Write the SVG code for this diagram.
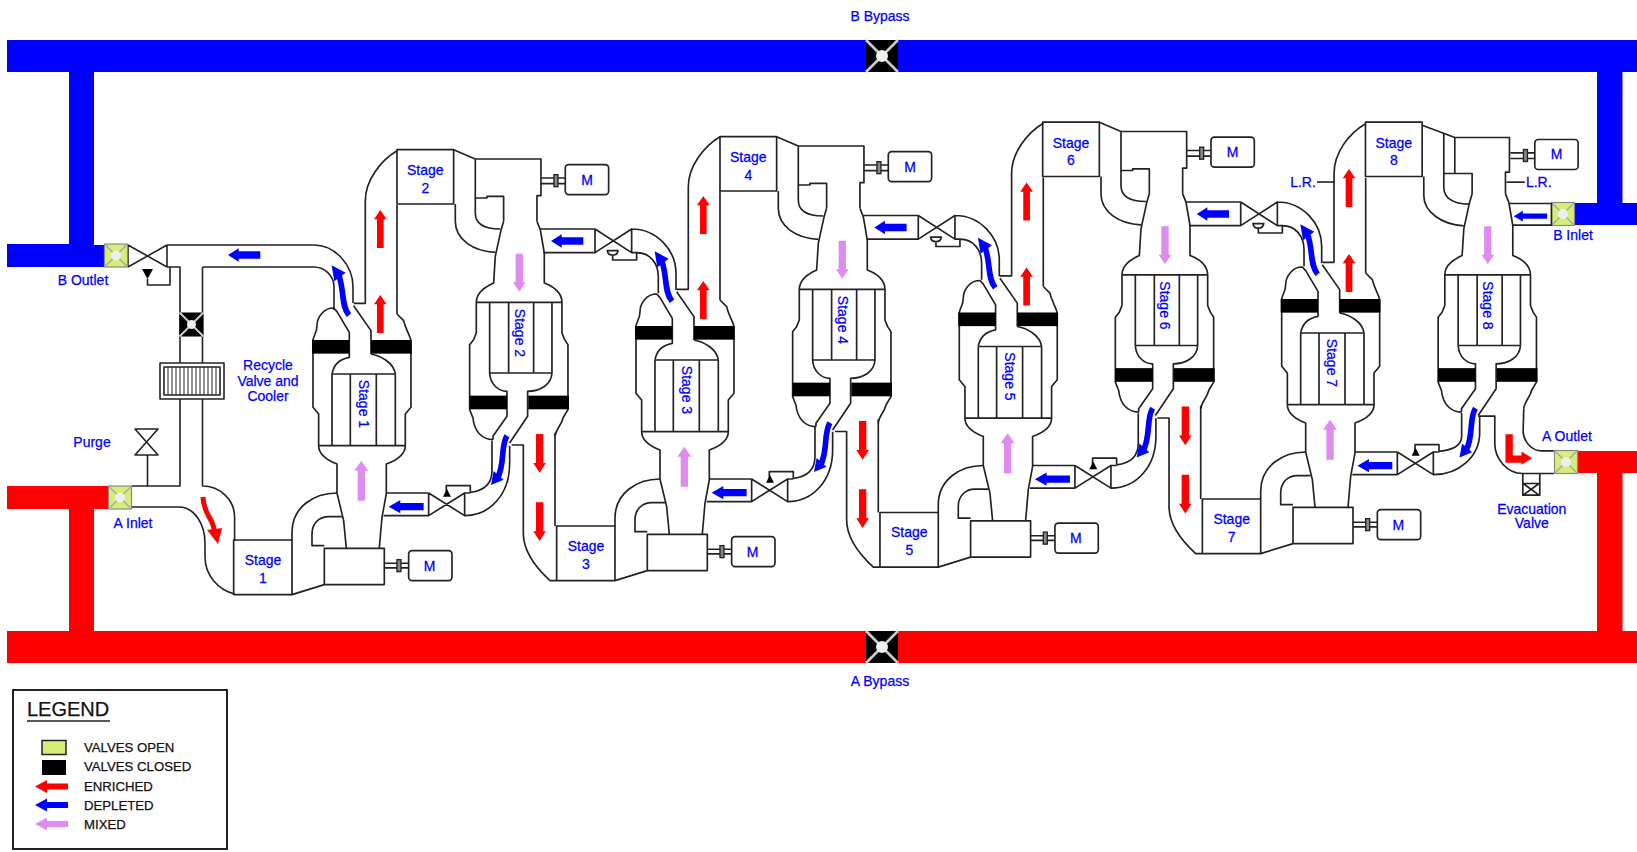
<svg xmlns="http://www.w3.org/2000/svg" width="1637" height="852" viewBox="0 0 1637 852">
<style>
text{font-family:"Liberation Sans",Arial,sans-serif;fill:#0000ff;stroke:#0000ff;stroke-width:.25px;text-anchor:middle;font-size:14px}
.z text{font-size:42px;stroke-width:.8px}
.l{fill:none;stroke:#222;stroke-width:1.6;stroke-linejoin:round}
.z .l,.zl{fill:none;stroke:#222;stroke-width:5;stroke-linejoin:round}
.b{fill:#000}.r{fill:#ff0000}.d{fill:#0000ff}.m{fill:#df8cef}
text.leg{fill:#111;stroke:#111;text-anchor:start;font-size:13.200px}
</style>
<defs>
<g id="vc"><rect x="-12" y="-12" width="24" height="24" fill="#000"/><path d="M-12,-12L12,12M12,-12L-12,12" stroke="#ccc" stroke-width="2"/><circle r="4.5" fill="#eee"/></g>
<g id="vo"><rect x="-11.5" y="-11.5" width="23" height="23" fill="#d6ee78" stroke="#888" stroke-width="1.2"/><path d="M-11,-11L11,11M11,-11L-11,11" stroke="#aaa" stroke-width="1.6"/><circle r="5" fill="#eee"/></g>
<g id="oddCore">
<path class="zl" d="M290,1188H465V1352H290ZM465,1352L562,1322M562,1213H742V1322H562Z"/>
<path class="zl" d="M465,1188V1165C465,1090 530,1047 600,1047M562,1205H525V1170C525,1140 545,1118 575,1118H615"/>
<path class="zl" d="M628,1213L620,1130L600,1047V960C575,950 545,935 545,905V810L528,790V588C532,570 540,565 540,545C540,520 560,492 590,492L600,503L637,565V640C610,645 590,660 585,690"/>
<path class="zl" d="M727,1213L735,1120L748,1050V960C775,950 805,935 805,905V810L822,790V590C818,570 805,555 800,530L780,510M702,630C730,635 770,655 775,690M702,630V560L650,485"/>
<path class="zl" d="M545,905H805M585,690H775M585,690V905M640,690V905M718,690V905M775,690V905"/>
<rect class="b" x="525" y="588" width="112" height="41"/><rect class="b" x="702" y="588" width="122" height="41"/>
<path class="zl" d="M742,1258H815M742,1272H815"/><rect x="780" y="1247" width="12" height="36" fill="#888" stroke="#222" stroke-width="4"/><rect class="zl" x="815" y="1220" width="130" height="90" rx="10"/>
<path class="m" d="M662,1070V980H652L673,950L694,980H684V1070Z"/>
</g>
<g id="riser"><path class="zl" d="M650,478H685V170C685,110 730,50 780,20M780,183V510"/></g>
<g id="riserArrows"><path class="r" d="M720,312V226H711L730,198L749,226H740V312Z"/><path class="r" d="M720,567V481H711L730,453L749,481H740V567Z"/></g>
<g id="bluLow"><path class="d" d="M860,1077H790V1068L755,1088L790,1108V1099H860Z"/></g>
<g id="bluUp"><path class="d" d="M370,322H305V313L273,333L305,353V344H370Z"/></g>
<g id="curveUp"><path d="M636,514C612,485 622,440 606,395" fill="none" stroke="#0000ff" stroke-width="17"/><path class="d" d="M584,364L626,386L592,412Z"/></g>
<g id="curveDown"><path d="M1110,878C1090,910 1105,960 1082,1005" fill="none" stroke="#0000ff" stroke-width="17"/><path class="d" d="M1062,1026L1070,984L1100,1010Z"/></g>
<g id="lowValve"><path class="zl" d="M748,1047H875M740,1115H875M875,1047V1115L983,1047V1115L875,1047M983,1047H1000M928,1045V1025H1000V1045"/><path class="b" d="M918,1058H942L930,1035Z"/></g>
<g id="lowLink"><use href="#lowValve"/><path class="zl" d="M983,1115C1060,1115 1118,1050 1118,960V905M1000,1045C1040,1040 1065,1020 1065,980V890"/></g>
<g id="upLink"><path class="zl" d="M240,297H405M250,368H405M405,297V368L515,297V368L405,297M515,297C590,297 648,360 648,430V480M515,368H530C570,368 595,400 595,440V490M458,378V390H530V368"/><path d="M442,362H474C472,380 444,380 442,362Z" fill="#fff" stroke="#222" stroke-width="5"/></g>
<g id="inflow"><path class="zl" d="M155,945H190V1210C190,1270 235,1320 270,1352H290M285,908V1188"/></g>
<g id="evenCore">
<path class="zl" d="M780,20H950V183H780Z"/>
<path class="zl" d="M1200,235L1210,260L1222,330V420C1250,430 1275,450 1275,478V570L1283,590L1293,605V800L1278,825C1275,845 1255,860 1255,880"/>
<path class="zl" d="M1100,235L1092,262L1075,340L1070,420C1050,430 1018,445 1018,478V570L1010,590L998,605V800L1008,825C1012,865 1035,890 1068,890"/>
<path class="zl" d="M1018,478H1275M1058,478V690M1115,478V690M1190,478V690M1245,478V690M1058,690H1245"/>
<path class="zl" d="M1058,690C1060,725 1085,745 1110,745V820L1068,880V890M1245,690C1243,725 1210,745 1172,745V820L1118,900"/>
<rect class="b" x="998" y="758" width="112" height="41"/><rect class="b" x="1174" y="758" width="122" height="41"/>
<path class="m" d="M1136,332V418H1128L1147,446L1166,418H1158V332Z"/>
<use href="#curveDown"/>
</g>
<g id="downArrows"><path class="r" d="M1197,873V960H1189L1208,989L1227,960H1219V873Z"/><path class="r" d="M1197,1078V1165H1189L1208,1194L1227,1165H1219V1078Z"/></g>
<g id="evenTop">
<path class="zl" d="M950,20L1015,48H1212V158H1200V235M1015,48V165H1050V160H1100V235"/>
<path class="zl" d="M1015,165V210C1015,240 1040,258 1090,258M955,183V235C955,290 1010,325 1075,328"/>
</g>
<g id="motorTop"><path class="zl" d="M1212,105H1285M1212,122H1285"/><rect x="1251" y="95" width="12" height="36" fill="#888" stroke="#222" stroke-width="4"/><rect class="zl" x="1285" y="65" width="130" height="90" rx="10"/></g>
</defs>
<rect width="1637" height="852" fill="#fff"/>
<g id="connectors">
<path class="d" d="M7,40H1637V72H1622.5V203H1637V225H1575V203H1597V72H94V245H104V267H7V244H69V72H7Z"/>
<path class="r" d="M7,631H69V509H7V486H108V509H94V631H1597V473H1578V451H1637V473H1622.5V631H1637V663H7Z"/>
<path class="l" d="M167,245H314C335,245 353,265 353,287V303M202.500,267H314C325,267 334,276 334,287V310"/>
<path class="l" d="M167,245V267M128,245L167,267M128,267L167,245M128,245V267M167,267H180V486H132M202.500,267V486C220,486 234.600,500 234.600,517V541M132,507H179C195,507 205,525 205,543V557C205,575 218,590 234.600,594"/>
<path class="b" d="M142,269H153L147.500,279Z"/><path class="l" d="M147.500,279V285H170V267"/>
<path class="l" d="M147.500,455V486"/><path class="l" d="M135,429H158L135,455H158Z"/>
<path d="M203,497C203,515 216,520 214,535" fill="none" stroke="#ff0000" stroke-width="5"/><path class="r" d="M207,530L222,528L218,544Z"/>
</g>
<g id="bypass-b-valve"><use href="#vc" transform="translate(882,56) scale(1.33)"/><text x="880" y="21">B Bypass</text></g>
<g id="bypass-a-valve"><use href="#vc" transform="translate(882,647) scale(1.33)"/><text x="880" y="686">A Bypass</text></g>
<g id="b-outlet"><use href="#vo" transform="translate(116,255.500)"/><text x="83" y="285">B Outlet</text></g>
<g id="a-inlet"><use href="#vo" transform="translate(120,497.500)"/><text x="133" y="528">A Inlet</text></g>
<g id="b-inlet"><use href="#vo" transform="translate(1563,214)"/><text x="1573" y="240">B Inlet</text></g>
<g id="a-outlet"><use href="#vo" transform="translate(1566,462)"/><text x="1567" y="441">A Outlet</text></g>
<g id="purge"><text x="92" y="447">Purge</text></g>
<g id="recycle-valve"><use href="#vc" transform="translate(191.500,324.500)"/><rect class="l" x="160" y="363" width="64" height="36" style="fill:#fff"/><rect class="l" x="164" y="367" width="56" height="28"/><path class="l" style="stroke-width:1" d="M168,367V395M172,367V395M176,367V395M180,367V395M184,367V395M188,367V395M192,367V395M196,367V395M200,367V395M204,367V395M208,367V395M212,367V395M216,367V395"/></g>
<g id="recycle-label"><text x="268" y="370">Recycle</text><text x="268" y="386">Valve and</text><text x="268" y="401">Cooler</text></g>
<g id="stage1" class="z" transform="translate(137,144) scale(.3333)"><use href="#oddCore"/><use href="#riser"/><use href="#riserArrows"/><use href="#bluUp"/><use href="#bluLow"/><use href="#lowLink"/><use href="#curveUp"/><text x="378" y="1262">Stage</text><text x="378" y="1316">1</text><text x="665" y="780" transform="rotate(90 665 780)">Stage 1</text><text x="878" y="1281">M</text></g>
<g id="stage2" class="z" transform="translate(137,143) scale(.3333)"><use href="#evenCore"/><use href="#downArrows"/><use href="#evenTop"/><use href="#motorTop"/><text x="865" y="97">Stage</text><text x="865" y="150">2</text><text x="1133" y="570" transform="rotate(90 1133 570)">Stage 2</text><text x="1350" y="125">M</text></g>
<g id="stage3" class="z" transform="translate(460,130) scale(.3333)"><use href="#inflow"/><use href="#oddCore"/><use href="#riser"/><use href="#riserArrows"/><use href="#upLink"/><use href="#bluUp"/><use href="#bluLow"/><use href="#lowLink"/><use href="#curveUp"/><text x="378" y="1262">Stage</text><text x="378" y="1316">3</text><text x="665" y="780" transform="rotate(90 665 780)">Stage 3</text><text x="878" y="1281">M</text></g>
<g id="stage4" class="z" transform="translate(460,130) scale(.3333)"><use href="#evenCore"/><use href="#downArrows"/><use href="#evenTop"/><use href="#motorTop"/><text x="865" y="97">Stage</text><text x="865" y="150">4</text><text x="1133" y="570" transform="rotate(90 1133 570)">Stage 4</text><text x="1350" y="125">M</text></g>
<g id="stage5" class="z" transform="translate(783.300,116.500) scale(.3333)"><use href="#inflow"/><use href="#oddCore"/><use href="#riser"/><use href="#riserArrows"/><use href="#upLink"/><use href="#bluUp"/><use href="#bluLow"/><use href="#lowLink"/><use href="#curveUp"/><text x="378" y="1262">Stage</text><text x="378" y="1316">5</text><text x="665" y="780" transform="rotate(90 665 780)">Stage 5</text><text x="878" y="1281">M</text></g>
<g id="stage6" class="z" transform="translate(782.700,115.500) scale(.3333)"><use href="#evenCore"/><use href="#downArrows"/><use href="#evenTop"/><use href="#motorTop"/><text x="865" y="97">Stage</text><text x="865" y="150">6</text><text x="1133" y="570" transform="rotate(90 1133 570)">Stage 6</text><text x="1350" y="125">M</text></g>
<g id="stage7" class="z" transform="translate(1105.700,103) scale(.3333)"><use href="#inflow"/><use href="#oddCore"/><path class="zl" d="M650,478H685V212C685,150 730,90 780,62M780,225V510"/><use href="#riserArrows"/><use href="#upLink"/><use href="#bluUp"/><use href="#bluLow"/><use href="#lowValve"/><path class="zl" d="M983,1115C1060,1115 1122,1060 1122,990V939M1000,1045C1040,1040 1068,1030 1068,1000V930"/><use href="#curveUp"/><text x="378" y="1262">Stage</text><text x="378" y="1316">7</text><text x="665" y="780" transform="rotate(90 665 780)">Stage 7</text><text x="878" y="1281">M</text></g>
<g id="stage8" class="z" transform="translate(1105.500,115.500) scale(.3333)">
<use href="#evenCore"/>
<path class="zl" d="M950,29L1048,66H1212V170H1200V235M1015,54V174H1100V235M1048,66V174M1015,174V215C1015,245 1040,266 1090,266M955,183V240C955,290 1010,328 1075,331"/>
<use href="#motorTop" transform="translate(3,7)"/>
<path class="zl" d="M1118,902H1168V984C1168,1030 1205,1074 1251,1074H1345M1255,880L1253,944C1253,980 1280,1006 1308,1006H1345M1211,264H1338V329H1222M1252,1074V1139H1303V1074M1253,1104H1301L1253,1139H1301L1253,1104"/>
<path class="zl" d="M1203,200H1258"/>
<path class="r" d="M1200,956H1222V1020H1248V1008L1280,1028L1248,1048V1042H1200Z"/>
<path class="d" d="M1325,294H1252V286L1225,302L1252,318V310H1325Z"/>
<text x="865" y="97">Stage</text><text x="865" y="150">8</text><text x="1133" y="570" transform="rotate(90 1133 570)">Stage 8</text><text x="1353" y="132">M</text>
<text x="1300" y="215">L.R.</text>
<text x="1279" y="1197">Evacuation</text><text x="1279" y="1238">Valve</text>
</g>
<g id="lr-left"><path class="l" d="M1317,182H1335"/><text x="1303" y="187">L.R.</text></g>
<g id="legend">
<rect x="13" y="690" width="214" height="159" fill="none" stroke="#222" stroke-width="2"/>
<text class="leg" x="27" y="716" style="font-size:20px">LEGEND</text><path d="M27,721H110" stroke="#222" stroke-width="1.500"/>
<rect x="42" y="740.500" width="24" height="14" fill="#d6ee78" stroke="#222" stroke-width="1.500"/><rect x="42" y="760" width="24" height="15" fill="#000"/>
<path class="r" d="M68,783.500H47V780L35,786.500L47,793V789.500H68Z"/><path class="d" d="M68,802H47V798.500L35,805L47,811.500V808H68Z"/><path class="m" d="M68,821H47V817.500L35,824L47,830.500V827H68Z"/>
<text class="leg" x="84" y="752">VALVES OPEN</text><text class="leg" x="84" y="771">VALVES CLOSED</text><text class="leg" x="84" y="791">ENRICHED</text><text class="leg" x="84" y="810">DEPLETED</text><text class="leg" x="84" y="829">MIXED</text>
</g>
</svg>
